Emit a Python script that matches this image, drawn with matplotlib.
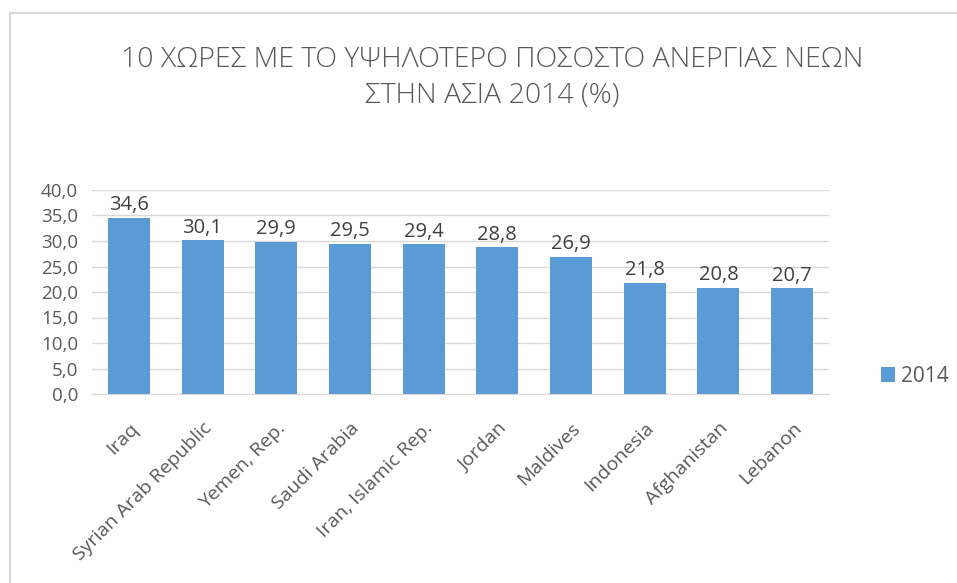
import matplotlib
matplotlib.use("Agg")
import matplotlib.pyplot as plt
from matplotlib.lines import Line2D

# Data
countries = [
    "Iraq",
    "Syrian Arab Republic",
    "Yemen, Rep.",
    "Saudi Arabia",
    "Iran, Islamic Rep.",
    "Jordan",
    "Maldives",
    "Indonesia",
    "Afghanistan",
    "Lebanon",
]
values_2014 = [34.6, 30.1, 29.9, 29.5, 29.4, 28.8, 26.9, 21.8, 20.8, 20.7]
series_name = "2014"
yticks = [0, 5, 10, 15, 20, 25, 30, 35, 40]

bar_color = "#5B9BD5"
text_color = "#595959"

plt.rcParams["font.family"] = ["Open Sans", "DejaVu Sans"]

fig = plt.figure(figsize=(9.57, 5.83), dpi=100)
ax = fig.add_axes([92 / 957, 1 - 394 / 583, (829 - 92) / 957, (394 - 190) / 583])

x = list(range(len(countries)))
bars = ax.bar(x, values_2014, width=0.57, color=bar_color, label=series_name, zorder=2)

# value labels
for xi, v in zip(x, values_2014):
    ax.text(xi, v + 0.5, f"{v:.1f}".replace(".", ","), ha="center", va="bottom",
            fontsize=14.5, color="#404040")

ax.set_xlim(-0.5, len(countries) - 0.5)
ax.set_ylim(0, 40)
ax.set_yticks(yticks)
ax.set_yticklabels([f"{t:.1f}".replace(".", ",") for t in yticks], fontsize=13.5, color=text_color)
ax.set_xticks(x)
ax.set_xticklabels(countries, rotation=45, ha="right", rotation_mode="anchor",
                   fontsize=14, color=text_color)
ax.tick_params(axis="both", length=0)
ax.tick_params(axis="y", pad=10)
ax.tick_params(axis="x", pad=18)

ax.grid(axis="y", color="#D9D9D9", linewidth=1, zorder=0)
for side in ["top", "right", "left"]:
    ax.spines[side].set_visible(False)
ax.spines["bottom"].set_color("#D9D9D9")

fig.suptitle("10 ΧΩΡΕΣ ΜΕ ΤΟ ΥΨΗΛΟΤΕΡΟ ΠΟΣΟΣΤΟ ΑΝΕΡΓΙΑΣ ΝΕΩΝ\nΣΤΗΝ ΑΣΙΑ 2014 (%)",
             x=492 / 957, y=1 - 46 / 583, fontsize=20.5, color=text_color,
             fontweight="light", linespacing=1.4, va="top")

leg = fig.legend(handles=[bars], labels=[series_name], loc="center left",
                 bbox_to_anchor=(862 / 957, 1 - 376 / 583), frameon=False,
                 fontsize=15, handlelength=0.7, handleheight=0.7, handletextpad=0.25)
for t in leg.get_texts():
    t.set_color(text_color)

# outer chart border (top and left visible)
fig.add_artist(Line2D([10 / 957, 1], [1 - 13 / 583, 1 - 13 / 583],
                      transform=fig.transFigure, color="#D9D9D9", linewidth=1.5))
fig.add_artist(Line2D([10 / 957, 10 / 957], [0, 1 - 13 / 583],
                      transform=fig.transFigure, color="#D9D9D9", linewidth=1.5))

fig.savefig("out.png", dpi=100, facecolor="white")
